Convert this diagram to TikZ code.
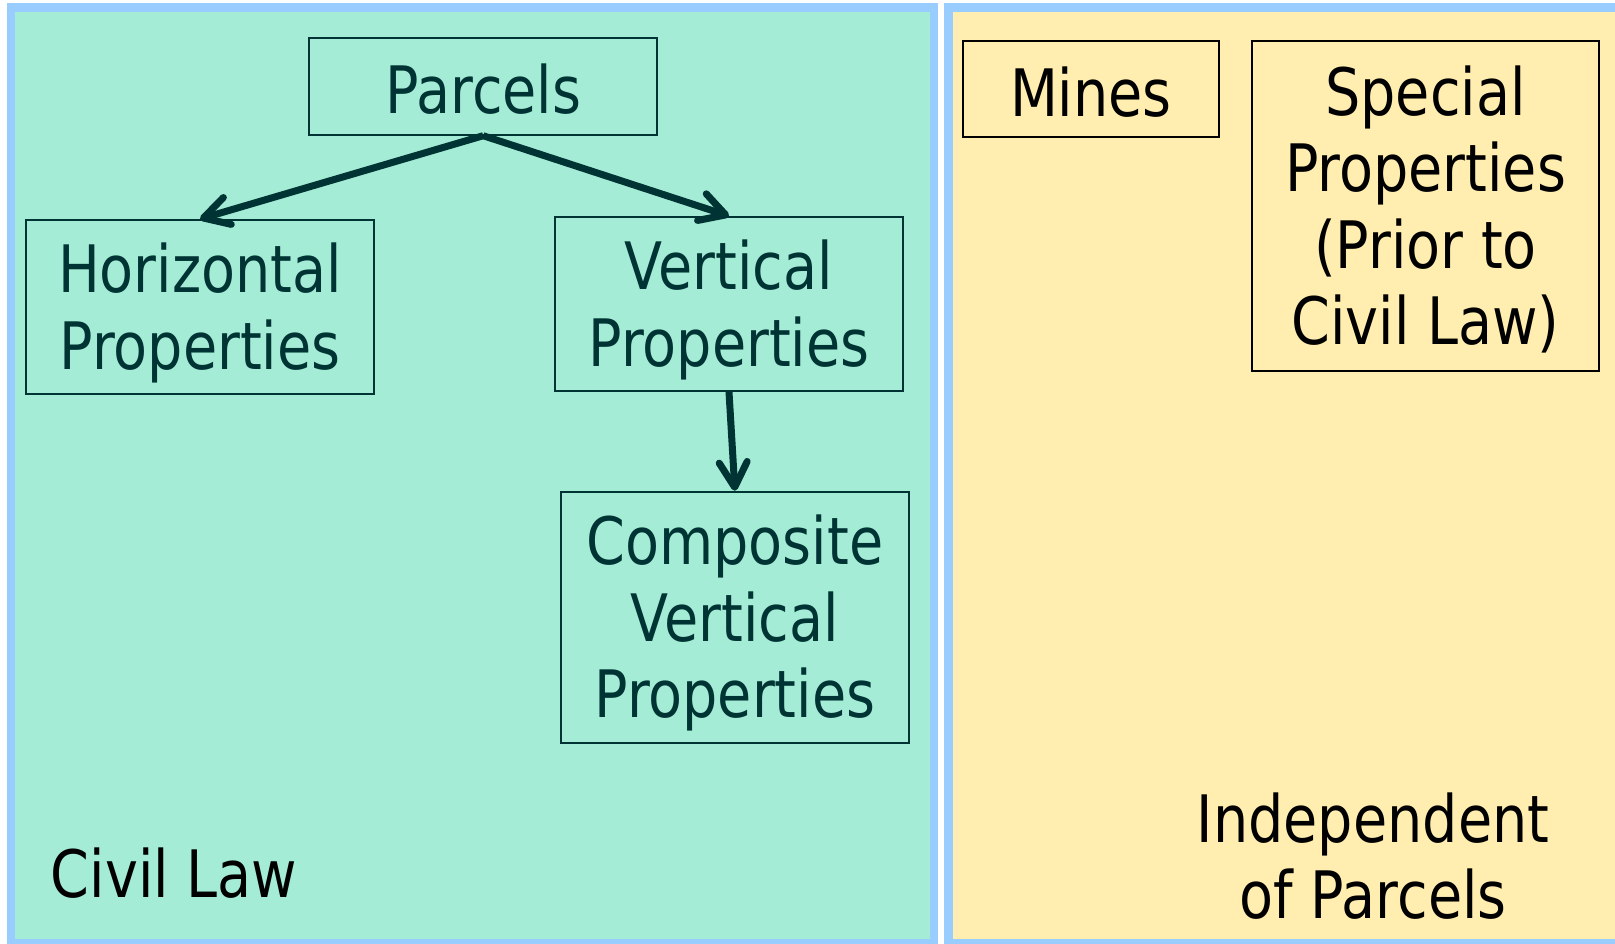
\documentclass[tikz,border=0pt]{standalone}
\usepackage{fontspec}
\setmainfont{DejaVu Sans}[FakeStretch=0.85]
\usetikzlibrary{arrows.meta}
\definecolor{panelblue}{RGB}{153,204,255}
\definecolor{mintfill}{RGB}{164,236,214}
\definecolor{sandfill}{RGB}{255,238,176}
\definecolor{darkteal}{RGB}{0,51,51}
\newcommand\bigfont{\fontsize{65.4pt}{76.5pt}\selectfont}
\newcommand\capadj[1]{\rule{0pt}{#1em}}
\tikzset{
  panel/.style={draw=panelblue, line width=8.5pt},
  box/.style={draw, line width=2pt, inner sep=0pt, align=center, font=\bigfont},
  civbox/.style={box, draw=darkteal, text=darkteal},
  indbox/.style={box, draw=black, text=black},
  freetext/.style={inner sep=0pt, align=center, font=\bigfont, text=black},
  arr/.style={draw=darkteal, line width=7pt, -{Straight Barb[round,length=25pt,width=28pt]}},
}
\begin{document}
\begin{tikzpicture}[x=1pt,y=-1pt]
\useasboundingbox (0,0) rectangle (1615,943);
\clip (0,0) rectangle (1615,943);
\fill[white] (0,0) rectangle (1615,943);
% panels
\draw[panel, fill=mintfill] (11,7.5) rectangle (934,943);
\draw[panel, fill=sandfill] (948.5,7.5) rectangle (1640,943);
% civil law boxes
\node[civbox, minimum width=347.7pt, minimum height=97pt] (parcels) at (483.2,86.2) {\capadj{0.85}Parcels};
\node[civbox, minimum width=348pt, minimum height=174pt] (hp) at (200,307) {\capadj{0.937}Horizontal\\Properties};
\node[civbox, minimum width=348pt, minimum height=174pt] (vp) at (729,304) {\capadj{0.937}Vertical\\Properties};
\node[civbox, minimum width=348.3pt, minimum height=251.3pt] (cvp) at (734.9,617.4) {\capadj{0.937}Composite\\Vertical\\Properties};
% independent boxes
\node[indbox, minimum width=255.2pt, minimum height=96.3pt] (mines) at (1090.9,89.2) {\capadj{0.85}Mines};
\node[indbox, minimum width=347pt, minimum height=330pt] (spec) at (1425.5,206) {\capadj{0.861}Special\\Properties\\(Prior to\\Civil Law)};
% panel labels
\node[freetext, anchor=base] (civil) at (174,897) {Civil Law};
\node[freetext] (indep) at (1373,856) {Independent\\of Parcels};
% connectors
\draw[arr] (parcels.south) -- (hp.north);
\draw[arr] (parcels.south) -- (vp.north);
\draw[arr] (vp.south) -- (cvp.north);
\end{tikzpicture}
\end{document}
